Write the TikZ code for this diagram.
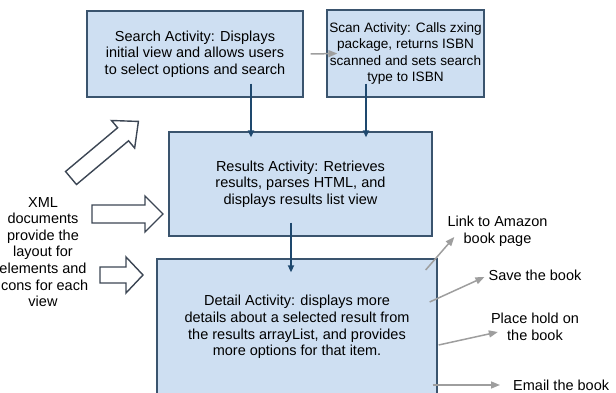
\documentclass[tikz,border=0pt]{standalone}
\usepackage{fontspec}
\setmainfont{Liberation Sans}
\usetikzlibrary{arrows.meta}

\definecolor{boxfill}{RGB}{206,223,242}
\definecolor{boxline}{RGB}{58,84,110}
\definecolor{flowline}{RGB}{30,72,110}
\definecolor{optionline}{RGB}{158,158,158}
\definecolor{blockline}{RGB}{60,70,84}

\begin{document}
\begin{tikzpicture}[x=1pt,y=-1pt]

    % Define styles
    \tikzset{
        activity/.style={draw=boxline, fill=boxfill, line width=1.3pt, align=center, inner sep=0pt, font=\fontsize{14.5}{16.6}\selectfont},
        label/.style={align=center, inner sep=0pt, font=\fontsize{14.5}{16.6}\selectfont},
        flow arrow/.style={-{Triangle[length=7pt,width=6pt]}, draw=flowline, line width=1.6pt},
        option arrow/.style={-{Triangle[length=9pt,width=7pt]}, draw=optionline, line width=1.5pt},
        block arrow/.style={draw=blockline, fill=white, line width=1.4pt, line join=miter}
    }

    % Page frame
    \useasboundingbox (0,0) rectangle (616,393);
    \clip (0,0) rectangle (616,393);

    % Activity boxes
    \node[activity, minimum width=216, minimum height=86] (search) at (195,54)
        {Search Activity: Displays\\initial view and allows users\\to select options and search};
    \node[activity, minimum width=157, minimum height=87, font=\fontsize{13.6}{16.4}\selectfont] (scan) at (405.5,53.5)
        {Scan Activity: Calls zxing\\package, returns ISBN\\scanned and sets search\\type to ISBN};
    \node[activity, minimum width=263, minimum height=104] (results) at (300.5,184)
        {Results Activity: Retrieves\\results, parses HTML, and\\displays results list view};
    \node[activity, minimum width=280, minimum height=136] (detail) at (297,327)
        {Detail Activity: displays more\\details about a selected result from\\the results arrayList, and provides\\more options for that item.};

    % Flow between activities
    \draw[option arrow] ([xshift=7pt]search.east) -- ([xshift=11pt]scan.west);
    \draw[flow arrow, shorten >=-6pt] ([xshift=56pt,yshift=14pt]search.south) -- ([xshift=56pt]search.south |- results.north);
    \draw[flow arrow, shorten >=-6pt] ([xshift=-39.5pt,yshift=14pt]scan.south) -- ([xshift=-39.5pt]scan.south |- results.north);
    \draw[flow arrow, shorten >=-14pt] ([xshift=-9.5pt,yshift=14pt]results.south) -- ([xshift=-9.5pt]results.south |- detail.north);

    % Options offered by the detail view
    \node[label] (amazon) at (497.5,231) {Link to Amazon\\book page};
    \node[label] (save) at (535,275) {Save the book};
    \node[label] (hold) at (535,327) {Place hold on\\the book};
    \node[label, anchor=west] (email) at (513,385) {Email the book};

    \draw[option arrow] ([xshift=-12pt,yshift=57pt]detail.east) -- ([xshift=7pt,yshift=-6pt]amazon.west);
    \draw[option arrow] ([xshift=-8pt,yshift=25pt]detail.east) -- ([xshift=-4pt,yshift=-2pt]save.west);
    \draw[option arrow] ([xshift=1pt,yshift=-18pt]detail.east) -- ([xshift=7pt,yshift=-5pt]hold.west);
    \draw[option arrow] ([xshift=-5pt,yshift=-58pt]detail.east) -- ([xshift=-13pt]email.west);

    % XML layouts feeding the views
    \node[label] (xml) at (43,252)
        {XML\\documents\\provide the\\layout for\\elements and\\icons for each\\view};

    % Hollow block arrows
    \begin{scope}[shift={(71,178)}, rotate=40]
        \draw[block arrow] (0,-8.5) -- (68,-8.5) -- (68,-18) -- (88,0) -- (68,18) -- (68,8.5) -- (0,8.5) -- cycle;
    \end{scope}
    \draw[block arrow] (92,205) -- (145,205) -- (145,196) -- (163,214) -- (145,232) -- (145,223) -- (92,223) -- cycle;
    \draw[block arrow] (100,267) -- (126,267) -- (126,257) -- (143,275) -- (126,293) -- (126,283) -- (100,283) -- cycle;

\end{tikzpicture}
\end{document}
